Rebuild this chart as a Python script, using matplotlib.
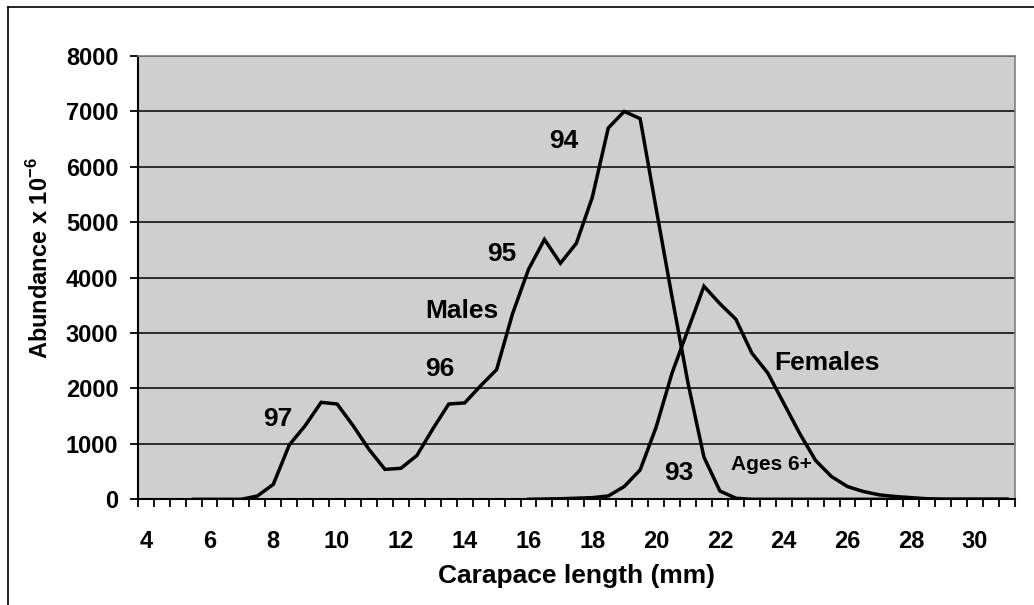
import numpy as np
import matplotlib
matplotlib.use("Agg")
from matplotlib import pyplot as plt
from matplotlib.lines import Line2D

plt.rcParams['font.family'] = ['Liberation Sans', 'DejaVu Sans']
plt.rcParams['font.weight'] = 'bold'
plt.rcParams['mathtext.fontset'] = 'custom'
plt.rcParams['mathtext.bf'] = 'Liberation Sans:bold'
plt.rcParams['mathtext.rm'] = 'Liberation Sans:bold'

# carapace length classes (mm), 0.5 mm bins
lengths = np.arange(4.0, 31.5, 0.5)
nan = np.nan

# abundance x 10^-6 per length class
males = [nan, nan, nan, 0, 0, 0, 0, 60, 270, 980,
         1330, 1750, 1720, 1330, 900, 540, 560, 790, 1270, 1720,
         1740, 2050, 2340, 3350, 4150, 4690, 4260, 4620, 5450, 6700,
         7000, 6870, 5250, 3650, 2100, 760, 150, 20, 0, 0,
         0, 0, 0, 0, 0, 0, 0, 0, 0, 0,
         0, 0, 0, 0, 0]
females = [nan, nan, nan, nan, nan, nan, nan, nan, nan, nan,
           nan, nan, nan, nan, nan, nan, nan, nan, nan, nan,
           nan, nan, nan, nan, 0, 5, 10, 20, 30, 60,
           230, 530, 1300, 2280, 3060, 3845, 3530, 3250, 2640, 2280,
           1735, 1190, 700, 410, 230, 140, 80, 50, 30, 10,
           0, 0, 0, 0, 0]

y_ticks = [0, 1000, 2000, 3000, 4000, 5000, 6000, 7000, 8000]
x_labels = [4, 6, 8, 10, 12, 14, 16, 18, 20, 22, 24, 26, 28, 30]

# year-class and curve annotations: (text, x, y, size)
notes = [("97", 8.14, 1450, 19), ("96", 13.21, 2350, 19),
         ("Males", 13.9, 3400, 19), ("95", 15.15, 4430, 19),
         ("94", 17.1, 6470, 19), ("93", 20.7, 475, 19),
         ("Ages 6+", 23.61, 620, 15), ("Females", 25.37, 2460, 19)]

fig = plt.figure(figsize=(10.34, 6.05), dpi=100)
ax = fig.add_axes([0.1332, 0.1747, 0.8484, 0.7327])
ax.set_facecolor('#cfcfcf')

ax.plot(lengths, males, color='black', lw=2.5, solid_joinstyle='miter', zorder=3)
ax.plot(lengths, females, color='black', lw=2.5, solid_joinstyle='miter', zorder=3)

for txt, x, y, size in notes:
    ax.text(x, y, txt, ha='center', va='center', fontsize=size,
            fontweight='bold', zorder=4)

ax.set_xlim(3.75, 31.25)
ax.set_ylim(0, 8000)
ax.set_yticks(y_ticks)
ax.yaxis.grid(True, color='black', lw=1.1)
ax.set_axisbelow(True)

ax.set_xticks(x_labels)
ax.set_xticks(np.arange(3.75, 31.5, 0.5), minor=True)
ax.tick_params(axis='x', which='major', length=0, pad=22, labelsize=17)
ax.tick_params(axis='x', which='minor', length=6, width=1.3, direction='out')
ax.tick_params(axis='y', length=6, width=1.3, pad=8, labelsize=17)

for side in ('left', 'bottom'):
    ax.spines[side].set_linewidth(1.5)
for side in ('top', 'right'):
    ax.spines[side].set_color('#808080')
    ax.spines[side].set_linewidth(1.2)

ax.set_xlabel('Carapace length (mm)', fontsize=19, fontweight='bold', labelpad=8)
ax.set_ylabel(r'Abundance x 10$^{\mathbf{-6}}$', fontsize=17, fontweight='bold')
ax.yaxis.set_label_coords(-0.097, 0.545)

# outer chart frame
fig.add_artist(Line2D([8 / 1034, 8 / 1034], [0, 1 - 7 / 605], color='black', lw=1.2,
                      transform=fig.transFigure))
fig.add_artist(Line2D([8 / 1034, 1], [1 - 7 / 605, 1 - 7 / 605], color='black', lw=1.2,
                      transform=fig.transFigure))

fig.savefig('out.png', dpi=100, facecolor='white')
